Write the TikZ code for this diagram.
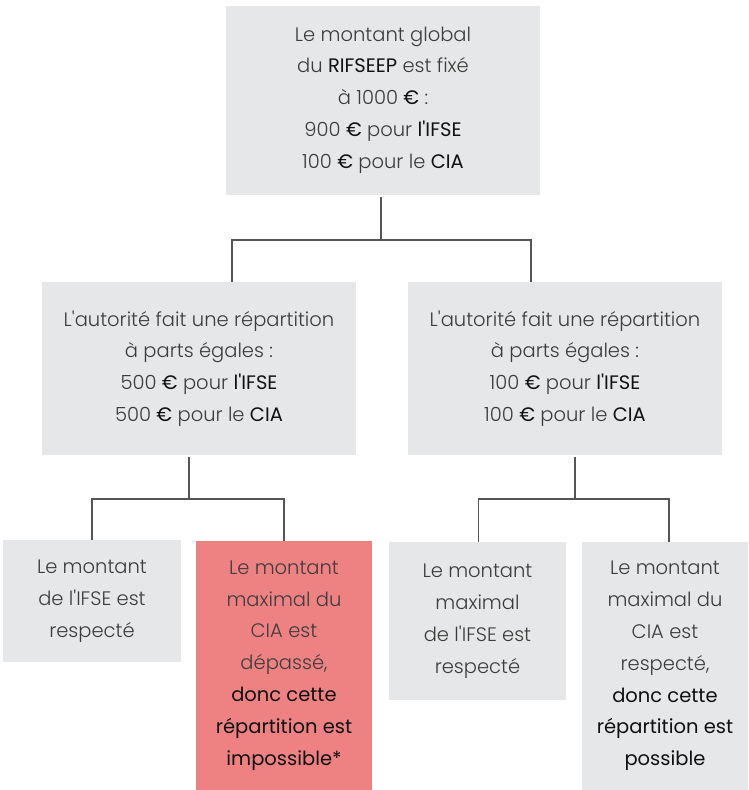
\documentclass[tikz,border=0pt]{standalone}
\usepackage{fontspec}
\setmainfont{Poppins}[UprightFont=* Light, BoldFont=* Regular, Ligatures=TeXOff]
\definecolor{gristexte}{HTML}{3C3C3C}
\definecolor{noir}{HTML}{111111}
\definecolor{grisfond}{HTML}{E6E7E8}
\definecolor{rougefond}{HTML}{EE8283}
\definecolor{trait}{HTML}{555555}
\newcommand{\fort}[1]{{\color{noir}\bfseries #1}}

\begin{document}
\begin{tikzpicture}[x=1pt, y=-1pt]
\tikzset{boite/.style={fill=grisfond, text=gristexte, align=center, inner sep=0pt,
    font=\fontsize{19.5}{31.8}\selectfont},
  rouge/.style={boite, fill=rougefond},
  lien/.style={draw=trait, line width=1.2pt}}
\useasboundingbox (0,0) rectangle (749,790);
\node[boite, minimum width=314pt, minimum height=189pt] (T) at (383,100)
  {Le montant global\\du \fort{RIFSEEP} est fixé\\à 1000 \fort{€} :\\900 \fort{€} pour \fort{l'IFSE}\\100 \fort{€} pour le \fort{CIA}};
\node[boite, minimum width=314pt, minimum height=173pt] (G) at (199,368.5)
  {L'autorité fait une répartition\\à parts égales :\\500 \fort{€} pour \fort{l'IFSE}\\500 \fort{€} pour le \fort{CIA}};
\node[boite, minimum width=314pt, minimum height=173pt] (D) at (565,368.5)
  {L'autorité fait une répartition\\à parts égales :\\100 \fort{€} pour \fort{l'IFSE}\\100 \fort{€} pour le \fort{CIA}};
\node[boite, minimum width=178pt, minimum height=122pt] (G1) at (92,601)
  {Le montant\\de l'IFSE est\\respecté};
\node[rouge, minimum width=176pt, minimum height=249pt] (G2) at (284,665.5)
  {Le montant\\maximal du\\CIA est\\dépassé,\\\fort{donc cette}\\\fort{répartition est}\\\fort{impossible*}};
\node[boite, minimum width=177pt, minimum height=158pt] (D1) at (477.5,621)
  {Le montant\\maximal\\de l'IFSE est\\respecté};
\node[boite, minimum width=166pt, minimum height=248pt] (D2) at (665,666)
  {Le montant\\maximal du\\CIA est\\respecté,\\\fort{donc cette}\\\fort{répartition est}\\\fort{possible}};
% liens
\coordinate (J1) at (381,240);
\coordinate (J2) at (189,499);
\coordinate (J3) at (575,499);
\draw[lien] ([yshift=-2pt]J1 |- T.south) -- (J1);
\draw[lien] ([xshift=33pt]G.north) |- (J1) -| ([xshift=-34pt]D.north);
\draw[lien] ([yshift=-2pt]J2 |- G.south) -- (J2);
\draw[lien] (G1.north) |- (J2) -| (G2.north);
\draw[lien] ([yshift=-2pt]J3 |- D.south) -- (J3);
\draw[lien] ([xshift=1pt]D1.north) |- (J3) -| ([xshift=4pt]D2.north);
\end{tikzpicture}
\end{document}
